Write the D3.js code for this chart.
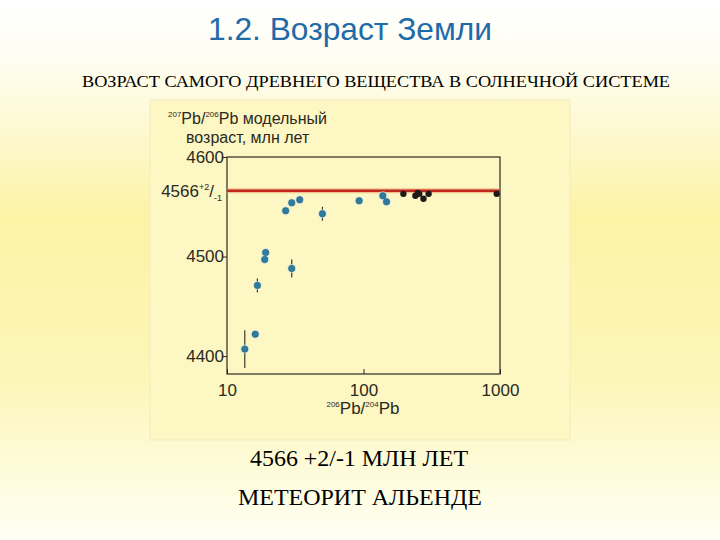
<!DOCTYPE html>
<html><head><meta charset="utf-8">
<script src="https://cdn.jsdelivr.net/npm/d3@7"></script>
<style>html,body{margin:0;padding:0;}svg{display:block;}</style>
</head><body>
<svg id="c" width="720" height="540"></svg>
<script>
// Data
const blueX   = [13.5, 16.1, 16.7, 19.2, 18.9, 29.8, 26.9, 29.8, 34.1, 50.0, 92.9, 138.6, 147.5];
const blueY   = [4407, 4422, 4471, 4504, 4497, 4488, 4546, 4554, 4557, 4543, 4556, 4561, 4555];
const blueErr = [19, 2, 7, 2, 2, 9, 1, 1, 1, 7, 1, 2, 1];
const blackX  = [196, 240, 250, 256, 275, 300, 946];
const blackY  = [4563, 4561, 4564, 4563, 4558, 4563, 4563];
const meanAge = 4566;
const xTicks  = [10, 100, 1000];
const yTicks  = [4400, 4500, 4600];

const svg = d3.select("#c");
const defs = svg.append("defs");
const bg = defs.append("linearGradient").attr("id","bg").attr("x1",0).attr("y1",0).attr("x2",0).attr("y2",1);
bg.append("stop").attr("offset","0%").attr("stop-color","#ffffff");
bg.append("stop").attr("offset","12%").attr("stop-color","#fefdf0");
bg.append("stop").attr("offset","40%").attr("stop-color","#fcf3a6");
bg.append("stop").attr("offset","70%").attr("stop-color","#fcf6b8");
bg.append("stop").attr("offset","100%").attr("stop-color","#fffff4");
svg.append("rect").attr("width",720).attr("height",540).attr("fill","url(#bg)");

// Panel
svg.append("rect").attr("x",150).attr("y",100).attr("width",420).attr("height",340)
  .attr("fill","#fdf7c4").attr("stroke","#f3ecc0").attr("stroke-width",1);

const x = d3.scaleLog().domain([10,1000]).range([227,500]);
const y = d3.scaleLinear().domain([4382,4600]).range([374,157]);

// Plot frame
svg.append("rect").attr("x",227).attr("y",157).attr("width",273).attr("height",217)
  .attr("fill","none").attr("stroke","#2a2a20").attr("stroke-width",1.2);

// Y axis (ticks outward)
const yAx = svg.append("g").attr("transform","translate(227,0)")
  .call(d3.axisLeft(y).tickValues(yTicks).tickSize(5).tickFormat(d3.format("d")));
yAx.select(".domain").remove();
yAx.selectAll("line").attr("stroke","#2a2a20");
yAx.selectAll("text").attr("font-family","Liberation Sans, Arial, sans-serif").attr("font-size",17)
  .attr("fill","#2a2a20").attr("x",-3);

// 4566 label
const lab = svg.append("text").attr("x",222).attr("y",y(meanAge)+6).attr("text-anchor","end")
  .attr("font-family","Liberation Sans, Arial, sans-serif").attr("font-size",17).attr("fill","#2a2a20");
lab.append("tspan").text("4566");
lab.append("tspan").attr("font-size",9).attr("dy",-7).text("+2");
lab.append("tspan").attr("font-size",17).attr("dy",7).text("/");
lab.append("tspan").attr("font-size",9).attr("dy",4).text("-1");

// X axis ticks (inward, only the middle one visible)
const xAx = svg.append("g").attr("transform","translate(0,374)")
  .call(d3.axisBottom(x).tickValues(xTicks).tickSize(-5).tickPadding(10).tickFormat(d3.format("d")));
xAx.select(".domain").remove();
xAx.selectAll("line").attr("stroke","#2a2a20");
xAx.selectAll("text").attr("font-family","Liberation Sans, Arial, sans-serif").attr("font-size",17).attr("fill","#2a2a20");

// Mean age line
svg.append("line").attr("x1",227).attr("x2",500).attr("y1",y(meanAge)).attr("y2",y(meanAge))
  .attr("stroke","#e8a070").attr("stroke-width",5).attr("opacity",0.6);
svg.append("line").attr("x1",227).attr("x2",500).attr("y1",y(meanAge)).attr("y2",y(meanAge))
  .attr("stroke","#c0281c").attr("stroke-width",2.5);

// Blue points with error bars
const blue = blueX.map((v,i)=>({x:v,y:blueY[i],e:blueErr[i]}));
svg.append("g").selectAll("line").data(blue.filter(d=>d.e>2)).join("line")
  .attr("x1",d=>x(d.x)).attr("x2",d=>x(d.x)).attr("y1",d=>y(d.y+d.e)).attr("y2",d=>y(d.y-d.e))
  .attr("stroke","#3a3a28").attr("stroke-width",1.2);
svg.append("g").selectAll("circle.halo").data(blue).join("circle")
  .attr("cx",d=>x(d.x)).attr("cy",d=>y(d.y)).attr("r",4.5).attr("fill","#cfe6e6").attr("opacity",0.7);
svg.append("g").selectAll("circle").data(blue).join("circle")
  .attr("cx",d=>x(d.x)).attr("cy",d=>y(d.y)).attr("r",3.2).attr("fill","#2f7d9e").attr("stroke","#25607a").attr("stroke-width",0.6);

// Black points
const black = blackX.map((v,i)=>({x:v,y:blackY[i]}));
svg.append("g").selectAll("circle").data(black).join("circle")
  .attr("cx",d=>x(d.x)).attr("cy",d=>y(d.y)).attr("r",3.2).attr("fill","#1e1a18");

// Axis titles
const yt = svg.append("text").attr("x",168).attr("y",124)
  .attr("font-family","Liberation Sans, Arial, sans-serif").attr("font-size",16).attr("fill","#2a2a20");
yt.append("tspan").attr("font-size",8).attr("dy",-7).text("207");
yt.append("tspan").attr("font-size",16).attr("dy",7).text("Pb/");
yt.append("tspan").attr("font-size",8).attr("dy",-7).text("206");
yt.append("tspan").attr("font-size",16).attr("dy",7).text("Pb модельный");
svg.append("text").attr("x",186).attr("y",143)
  .attr("font-family","Liberation Sans, Arial, sans-serif").attr("font-size",16).attr("fill","#2a2a20")
  .text("возраст, млн лет");

const xt = svg.append("text").attr("x",363).attr("y",414).attr("text-anchor","middle")
  .attr("font-family","Liberation Sans, Arial, sans-serif").attr("font-size",17).attr("fill","#2a2a20");
xt.append("tspan").attr("font-size",8).attr("dy",-7).text("206");
xt.append("tspan").attr("font-size",17).attr("dy",7).text("Pb/");
xt.append("tspan").attr("font-size",8).attr("dy",-7).text("204");
xt.append("tspan").attr("font-size",17).attr("dy",7).text("Pb");

// Titles
svg.append("text").attr("x",350).attr("y",40).attr("text-anchor","middle")
  .attr("font-family","Liberation Sans, Arial, sans-serif").attr("font-size",32).attr("fill","#1f6aa8")
  .attr("textLength",284).attr("lengthAdjust","spacingAndGlyphs")
  .text("1.2. Возраст Земли");
svg.append("text").attr("x",376).attr("y",87).attr("text-anchor","middle")
  .attr("font-family","Liberation Serif, Times New Roman, serif").attr("font-size",16).attr("fill","#000")
  .attr("textLength",588).attr("lengthAdjust","spacingAndGlyphs")
  .text("ВОЗРАСТ САМОГО ДРЕВНЕГО ВЕЩЕСТВА В СОЛНЕЧНОЙ СИСТЕМЕ");
svg.append("text").attr("x",359).attr("y",466).attr("text-anchor","middle")
  .attr("font-family","Liberation Serif, Times New Roman, serif").attr("font-size",23).attr("fill","#000")
  .attr("textLength",218).attr("lengthAdjust","spacingAndGlyphs")
  .text("4566 +2/-1 МЛН ЛЕТ");
svg.append("text").attr("x",360).attr("y",505).attr("text-anchor","middle")
  .attr("font-family","Liberation Serif, Times New Roman, serif").attr("font-size",23).attr("fill","#000")
  .attr("textLength",244).attr("lengthAdjust","spacingAndGlyphs")
  .text("МЕТЕОРИТ АЛЬЕНДЕ");
</script>
</body></html>
